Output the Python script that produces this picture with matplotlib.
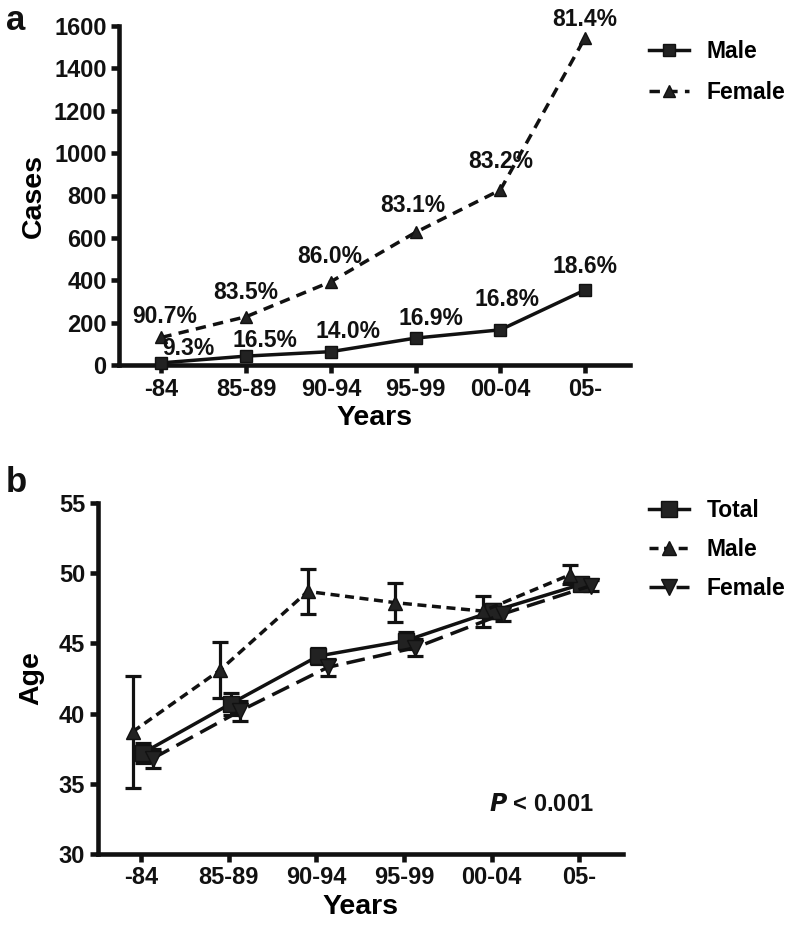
import matplotlib
matplotlib.use('Agg')
import matplotlib.pyplot as plt
import numpy as np

plt.rcParams['font.family'] = ['Liberation Sans', 'DejaVu Sans']
plt.rcParams['font.weight'] = 'bold'
plt.rcParams['axes.labelweight'] = 'bold'

# ---------------- data ----------------
years = ['-84', '85-89', '90-94', '95-99', '00-04', '05-']

cases_male = [10, 42, 63, 127, 166, 354]
cases_female = [130, 228, 393, 626, 826, 1545]
pct_male = ['9.3%', '16.5%', '14.0%', '16.9%', '16.8%', '18.6%']
pct_female = ['90.7%', '83.5%', '86.0%', '83.1%', '83.2%', '81.4%']
cases_ticks = [0, 200, 400, 600, 800, 1000, 1200, 1400, 1600]

age_total = [37.2, 40.7, 44.1, 45.2, 47.3, 49.2]
age_total_err = [0.7, 0.8, 0.6, 0.6, 0.5, 0.4]
age_male = [38.7, 43.1, 48.7, 47.9, 47.3, 49.9]
age_male_err = [4.0, 2.0, 1.6, 1.4, 1.1, 0.7]
age_female = [36.8, 40.2, 43.3, 44.7, 47.1, 49.1]
age_female_err = [0.7, 0.7, 0.6, 0.6, 0.5, 0.4]
age_ticks = [30, 35, 40, 45, 50, 55]

# label offsets (pixels) for the percentage annotations
off_female = [(3, 21), (0, 24), (-1, 25), (-3, 27), (0, 28), (0, 18)]
off_male = [(27, 14), (19, 16), (17, 20), (15, 20), (7, 30), (0, 23)]

# ---------------- figure ----------------
W, H = 792, 927
fig = plt.figure(figsize=(W / 100, H / 100), dpi=100)

LW = 2.5
SPW = 3.3
INK = '#111111'
MK = '#222222'
TICKFS = 17
LABFS = 20.5
TXTFS = 16.5


def style_axes(ax):
    for s in ['top', 'right']:
        ax.spines[s].set_visible(False)
    for s in ['left', 'bottom']:
        ax.spines[s].set_linewidth(SPW)
        ax.spines[s].set_color(INK)
    ax.tick_params(direction='out', width=SPW, length=6, colors=INK,
                   labelsize=TICKFS, pad=3)
    for lab in ax.get_xticklabels() + ax.get_yticklabels():
        lab.set_fontweight('bold')


# ---------- panel a ----------
axa = fig.add_axes([119 / W, 1 - 365 / H, (630 - 119) / W, (365 - 26) / H])
x = np.arange(len(years))
lm, = axa.plot(x, cases_male, color=INK, lw=LW, marker='s', ms=9,
               mfc=MK, mec=INK, clip_on=False, zorder=3)
lf, = axa.plot(x, cases_female, color=INK, lw=LW, ls=(0, (3.0, 2.1)),
               marker='^', ms=9, mfc=MK, mec=INK, clip_on=False, zorder=3)
for i in range(len(years)):
    axa.annotate(pct_female[i], (x[i], cases_female[i]), xytext=off_female[i],
                 textcoords='offset pixels', ha='center', va='center',
                 fontsize=TXTFS, fontweight='bold', color=INK, zorder=4)
    axa.annotate(pct_male[i], (x[i], cases_male[i]), xytext=off_male[i],
                 textcoords='offset pixels', ha='center', va='center',
                 fontsize=TXTFS, fontweight='bold', color=INK, zorder=4)
axa.set_xlim(-0.5, 5.53)
axa.set_ylim(0, 1600)
axa.set_yticks(cases_ticks)
axa.set_xticks(x)
axa.set_xticklabels(years)
axa.set_xlabel('Years', fontsize=LABFS, fontweight='bold', labelpad=3)
axa.set_ylabel('Cases', fontsize=LABFS, fontweight='bold', labelpad=5)
style_axes(axa)
fig.legend([lm, lf], ['Male', 'Female'], loc='upper left',
           bbox_to_anchor=(640 / W, 1 - 31 / H), frameon=False,
           prop={'size': TXTFS, 'weight': 'bold'}, handlelength=1.75,
           handletextpad=0.75, labelspacing=0.78, borderaxespad=0)

# ---------- panel b ----------
axb = fig.add_axes([97.5 / W, 1 - 854 / H, (623 - 97.5) / W, (854 - 503) / H])
xm = x - 0.10
xt = x + 0.02
xf = x + 0.13
ebkw = dict(fmt='none', ecolor=INK, elinewidth=2.3, capsize=6, capthick=2.3,
            clip_on=False, zorder=2)
axb.errorbar(xm, age_male, yerr=age_male_err, **ebkw)
axb.errorbar(xt, age_total, yerr=age_total_err, **ebkw)
axb.errorbar(xf, age_female, yerr=age_female_err, **ebkw)
bt, = axb.plot(xt, age_total, color=INK, lw=LW, marker='s', ms=11,
               mfc=MK, mec=INK, clip_on=False, zorder=3)
bm, = axb.plot(xm, age_male, color=INK, lw=LW, ls=(0, (2.6, 1.6)),
               marker='^', ms=10, mfc=MK, mec=INK, clip_on=False, zorder=3)
bf, = axb.plot(xf, age_female, color=INK, lw=LW, ls=(0, (5.4, 2.4)),
               marker='v', ms=11, mfc=MK, mec=INK, clip_on=False, zorder=3)
axb.set_xlim(-0.5, 5.5)
axb.set_ylim(30, 55)
axb.set_yticks(age_ticks)
axb.set_xticks(x)
axb.set_xticklabels(years)
axb.set_xlabel('Years', fontsize=LABFS, fontweight='bold', labelpad=3)
axb.set_ylabel('Age', fontsize=LABFS, fontweight='bold', labelpad=10)
style_axes(axb)
axb.text(0.945, 0.14, r'$\bfit{P}$ < 0.001', transform=axb.transAxes,
         ha='right', va='center', fontsize=17, fontweight='bold', color=INK)
fig.legend([bt, bm, bf], ['Total', 'Male', 'Female'], loc='upper left',
           bbox_to_anchor=(640 / W, 1 - 490 / H), frameon=False,
           prop={'size': TXTFS, 'weight': 'bold'}, handlelength=1.75,
           handletextpad=0.75, labelspacing=0.7, borderaxespad=0)

# panel letters
fig.text(6 / W, 1 - 20 / H, 'a', fontsize=25, fontweight='bold',
         ha='left', va='center', color=INK)
fig.text(6 / W, 1 - 482 / H, 'b', fontsize=25, fontweight='bold',
         ha='left', va='center', color=INK)

fig.savefig('out.png', dpi=100)
